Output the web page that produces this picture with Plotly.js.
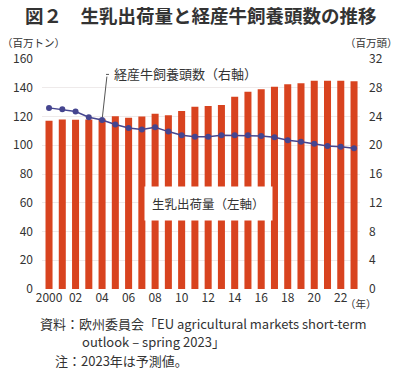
<!DOCTYPE html>
<html><head><meta charset="utf-8">
<script src="https://cdn.plot.ly/plotly-3.0.1.min.js"></script>
<style>html,body{margin:0;padding:0;background:#fff}#c{width:400px;height:376px}</style>
</head><body><div id="c"></div>
<script>
const years = [2000,2001,2002,2003,2004,2005,2006,2007,2008,2009,2010,2011,2012,2013,2014,2015,2016,2017,2018,2019,2020,2021,2022,2023];
const milkDeliveries = [117.1,118,117.8,118,118.5,120.1,119.2,120,122,120.8,123.8,126.8,127.3,128,133.8,137.3,138.9,140.7,142.4,143.1,144.9,144.9,144.9,144.5];
const dairyCows = [25.2,25.0,24.7,23.9,23.5,22.9,22.4,22.2,22.5,21.9,21.4,21.2,21.2,21.4,21.4,21.4,21.3,21.1,20.7,20.5,20.2,19.9,19.8,19.6];
const xTickVals = [2000,2002,2004,2006,2008,2010,2012,2014,2016,2018,2020,2022];
const xTickText = ["2000","02","04","06","08","10","12","14","16","18","20","22"];
const leftTicks = [0,20,40,60,80,100,120,140,160];
const rightTicks = [0,4,8,12,16,20,24,28,32];

const F = '"Noto Sans CJK JP", "Noto Sans", sans-serif';
const traces = [
  {type:'bar', x:years, y:milkDeliveries, marker:{color:'#D8431F'}, yaxis:'y', hoverinfo:'skip'},
  {type:'scatter', mode:'lines+markers', x:years, y:dairyCows, yaxis:'y2',
   line:{color:'#45458F', width:1.5}, marker:{color:'#45458F', size:6}, hoverinfo:'skip'}
];
const layout = {
  width:400, height:376, showlegend:false,
  paper_bgcolor:'#fff', plot_bgcolor:'#fff',
  margin:{l:42, r:40, t:59, b:87},
  bargap:0.47,
  font:{family:F, size:12, color:'#333'},
  xaxis:{range:[1999.47,2023.45], tickvals:xTickVals, ticktext:xTickText, showgrid:false, zeroline:false,
         ticks:'', tickfont:{size:12, color:'#333'}, showline:false, fixedrange:true},
  yaxis:{range:[0,160], tickvals:leftTicks, showgrid:true, gridcolor:'#EEEAEA', gridwidth:1, zeroline:false,
         ticks:'', tickfont:{size:12, color:'#333'}, ticklabelstandoff:8},
  yaxis2:{range:[0,32], tickvals:rightTicks, overlaying:'y', side:'right', showgrid:false, zeroline:false,
         ticks:'', tickfont:{size:12, color:'#333'}, ticklabelstandoff:8},
  shapes:[
    {type:'line', xref:'paper', yref:'paper', x0:0.2013, x1:0.2107, y0:0.933, y1:0.933, line:{color:'#555', width:1}}
  ],
  annotations:[
    {xref:'paper', yref:'paper', x:0.5, y:1, yshift:44, xanchor:'center', yanchor:'middle',
     text:'<b>図２　生乳出荷量と経産牛飼養頭数の推移</b>', showarrow:false, font:{size:18.5, color:'#333', family:F}},
    {xref:'paper', yref:'paper', x:0, xshift:-42, y:1, yshift:17, xanchor:'left', yanchor:'middle',
     text:'（百万トン）', showarrow:false, font:{size:10.5, color:'#333'}},
    {xref:'paper', yref:'paper', x:1, xshift:40, y:1, yshift:17, xanchor:'right', yanchor:'middle',
     text:'（百万頭）', showarrow:false, font:{size:10.5, color:'#333'}},
    {xref:'paper', yref:'paper', x:1, xshift:-17, y:0, yshift:-14, xanchor:'left', yanchor:'middle',
     text:'（年）', showarrow:false, font:{size:10.5, color:'#333'}},
    {xref:'x', yref:'y2', x:2004, y:23.5, ax:5, ay:-45, axref:'pixel', ayref:'pixel',
     text:'', showarrow:true, arrowhead:0, arrowwidth:1, arrowcolor:'#555', standoff:3},
    {xref:'paper', yref:'paper', x:0.22, y:0.935, xanchor:'left', yanchor:'middle',
     text:'経産牛飼養頭数（右軸）', showarrow:false, font:{size:13, color:'#333'}},
    {xref:'paper', yref:'paper', x:0.32, y:0.37, xanchor:'left', yanchor:'middle',
     text:'生乳出荷量（左軸）', showarrow:false, font:{size:12.5, color:'#333'},
     bgcolor:'#fff', borderpad:7},
    {xref:'paper', yref:'paper', x:0, xshift:-4, y:0, yshift:-34, xanchor:'left', yanchor:'middle', align:'left',
     text:'資料：欧州委員会「EU agricultural markets short-term', showarrow:false, font:{size:13, color:'#333'}},
    {xref:'paper', yref:'paper', x:0, xshift:38, y:0, yshift:-52, xanchor:'left', yanchor:'middle', align:'left',
     text:'outlook – spring 2023」', showarrow:false, font:{size:13, color:'#333'}},
    {xref:'paper', yref:'paper', x:0, xshift:11, y:0, yshift:-71, xanchor:'left', yanchor:'middle', align:'left',
     text:'注：2023年は予測値。', showarrow:false, font:{size:13, color:'#333'}}
  ]
};
Plotly.newPlot('c', traces, layout, {staticPlot:true, displayModeBar:false});
</script></body></html>
